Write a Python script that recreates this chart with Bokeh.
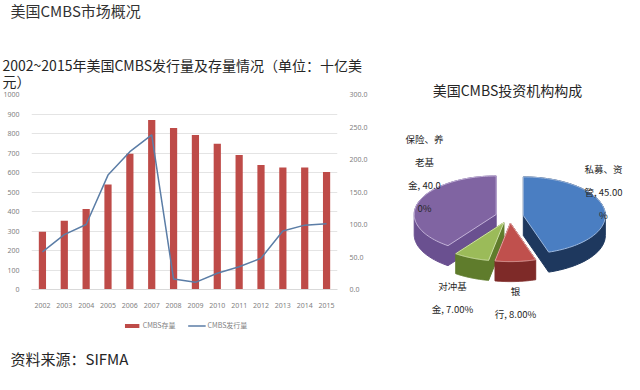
import numpy as np
from bokeh.plotting import figure
from bokeh.layouts import row, column
from bokeh.models import (FactorRange, Range1d, LinearAxis, FixedTicker,
                          PrintfTickFormatter, Legend, LegendItem)
from bokeh.core.properties import value
from bokeh.embed import file_html
from bokeh.resources import INLINE

# ---------------- data ----------------
years = ["2002", "2003", "2004", "2005", "2006", "2007", "2008",
         "2009", "2010", "2011", "2012", "2013", "2014", "2015"]
outstanding = [296, 352, 413, 539, 696, 869, 828, 792, 747, 690, 638, 626, 626, 602]   # CMBS存量
issuance = [58, 84.5, 100, 176, 212, 238, 16, 11, 25, 35, 48, 90, 99, 101]              # CMBS发行量
left_ticks = list(range(0, 1001, 100))
right_ticks = list(range(0, 301, 50))
series_names = ["CMBS存量", "CMBS发行量"]

pie_names = ["私募、资管", "银行", "对冲基金", "保险、养老基金"]
pie_shares = [45.0, 8.0, 7.0, 40.0]
pie_label_text = ["私募、资\n管, 45.00\n%", "银\n行, 8.00%", "对冲基\n金, 7.00%", "保险、养\n老基\n金, 40.0\n0%"]

page_title = "美国CMBS市场概况"
chart_title_1 = "2002~2015年美国CMBS发行量及存量情况（单位：十亿美"
chart_title_2 = "元）"
pie_title = "美国CMBS投资机构构成"
source_text = "资料来源：SIFMA"

CJK = "Noto Sans CJK SC"
BAR_COLOR = "#BE4B48"
LINE_COLOR = "#5B7DA6"
TXT = "#262626"


def blank(w, h, xr, yr):
    f = figure(width=w, height=h, x_range=xr, y_range=yr, output_backend="svg",
               toolbar_location=None, min_border=0)
    f.axis.visible = False
    f.grid.visible = False
    f.outline_line_color = None
    f.border_fill_color = "white"
    f.frame_align = False
    return f


# ---------------- header (page title + chart title) ----------------
hdr = blank(370, 90, Range1d(8, 378), Range1d(98, 8))
hdr.text(x=[18], y=[18], text=[page_title], text_font=value(CJK), text_font_size="15px",
         text_color="#333333", text_baseline="middle")
hdr.text(x=[10, 10], y=[72, 88], text=[chart_title_1, chart_title_2], text_font=value(CJK),
         text_font_size="14px", text_color=TXT, text_baseline="middle")

# ---------------- bar + line chart ----------------
p = figure(width=370, height=220, x_range=FactorRange(*years, range_padding=0),
           y_range=Range1d(0, 1000), output_backend="svg", toolbar_location=None,
           min_border_left=26, min_border_right=26, min_border_top=4, min_border_bottom=20)
p.frame_align = False
p.extra_y_ranges = {"r": Range1d(0, 300)}
p.outline_line_color = None
p.border_fill_color = "white"

p.vbar(x=years, top=outstanding, width=0.33, fill_color=BAR_COLOR, line_color=None)
p.line(x=years, y=issuance, y_range_name="r", line_color=LINE_COLOR, line_width=1.5)

p.yaxis[0].ticker = FixedTicker(ticks=left_ticks)
ra = LinearAxis(y_range_name="r", ticker=FixedTicker(ticks=right_ticks),
                formatter=PrintfTickFormatter(format="%.1f"))
p.add_layout(ra, "right")
for ax in p.yaxis:
    ax.axis_line_color = None
    ax.major_tick_line_color = None
    ax.minor_tick_line_color = None
    ax.major_label_text_font_size = "7px"
    ax.major_label_text_color = "#7f7f7f"
    ax.major_label_text_font = "Noto Sans"
    ax.major_label_standoff = 6
p.xaxis.axis_line_color = "#d9d9d9"
p.xaxis.major_tick_line_color = None
p.xaxis.minor_tick_line_color = None
p.xaxis.major_label_text_font_size = "7px"
p.xaxis.major_label_text_color = "#7f7f7f"
p.xaxis.major_label_text_font = "Noto Sans"
p.xaxis.major_label_standoff = 7
p.xgrid.grid_line_color = None
p.ygrid.grid_line_color = "#e4e4e4"
p.ygrid.ticker = FixedTicker(ticks=left_ticks)

# ---------------- footer (legend + source) ----------------
ftr = blank(370, 64, Range1d(8, 378), Range1d(382, 318))
lg_bar = ftr.vbar(x=[np.nan], top=[np.nan], width=1, fill_color=BAR_COLOR, line_color=None)
lg_line = ftr.line(x=[np.nan], y=[np.nan], line_color=LINE_COLOR, line_width=1.5)
legend = Legend(items=[LegendItem(label=series_names[0], renderers=[lg_bar]),
                       LegendItem(label=series_names[1], renderers=[lg_line])],
                orientation="horizontal", location="top_center",
                label_text_font_size="7px", label_text_color="#7f7f7f", label_text_font=CJK,
                glyph_width=18, glyph_height=5, spacing=12, padding=0, margin=10,
                border_line_color=None, background_fill_alpha=0, label_standoff=2)
ftr.add_layout(legend)
ftr.text(x=[18], y=[366], text=[source_text], text_font=value(CJK), text_font_size="15px",
         text_color=TXT, text_baseline="middle")

# ---------------- pie chart ----------------
q = blank(254, 374, Range1d(378, 632), Range1d(382, 8))

top_colors = ["#4A7EC2", "#C0504D", "#9BBB59", "#8064A2"]
side_colors = ["#1E385E", "#7E2A28", "#5F7C2C", "#6A5090"]
edge_colors = ["#9DB8DE", "#E0A3A1", "#CFE0A8", "#C3B3D8"]
cx, cy, R, k, ex, depth = 517, 224, 82, 0.47, 14, 20


def hull(pts):
    pts = sorted(set(pts))

    def cross(o, a, b):
        return (a[0] - o[0]) * (b[1] - o[1]) - (a[1] - o[1]) * (b[0] - o[0])
    lower, upper = [], []
    for pt in pts:
        while len(lower) >= 2 and cross(lower[-2], lower[-1], pt) <= 0:
            lower.pop()
        lower.append(pt)
    for pt in reversed(pts):
        while len(upper) >= 2 and cross(upper[-2], upper[-1], pt) <= 0:
            upper.pop()
        upper.append(pt)
    return lower[:-1] + upper[:-1]


cum = np.concatenate([[0], np.cumsum(pie_shares)]) / sum(pie_shares) * 2 * np.pi
tops, sides = {}, {}
for i in range(len(pie_shares)):
    th = np.linspace(cum[i], cum[i + 1], 80)
    mid = (cum[i] + cum[i + 1]) / 2
    ax_ = cx + ex * np.sin(mid)
    ay_ = cy - ex * k * np.cos(mid)
    xs = np.concatenate([[ax_], ax_ + R * np.sin(th)])
    ys = np.concatenate([[ay_], ay_ - R * k * np.cos(th)])
    tops[i] = (list(xs), list(ys))
    pts = [(float(a), float(b)) for a, b in zip(xs, ys)] + \
          [(float(a), float(b) + depth) for a, b in zip(xs, ys)]
    h = hull(pts)
    sides[i] = ([a for a, b in h], [b for a, b in h])

for i in [3, 0, 2, 1]:
    q.patch(sides[i][0], sides[i][1], fill_color=side_colors[i], line_color=side_colors[i], line_width=1)
    q.patch(tops[i][0], tops[i][1], fill_color=top_colors[i], line_color=edge_colors[i], line_width=1)

q.text(x=[515], y=[97.5], text=[pie_title], text_font=value(CJK), text_font_size="14px",
       text_color=TXT, text_align="center", text_baseline="middle")

lbl_x = [611, 523, 460, 432]
lbl_y = [169, 291, 286, 139]
q.text(x=lbl_x, y=lbl_y, text=pie_label_text, text_font=value(CJK), text_font_size="9.5px",
       text_color=TXT, text_align="center", text_baseline="top", text_line_height=1.65)

layout = row(column(hdr, p, ftr), q)
open("out.html", "w").write(file_html(layout, INLINE))
